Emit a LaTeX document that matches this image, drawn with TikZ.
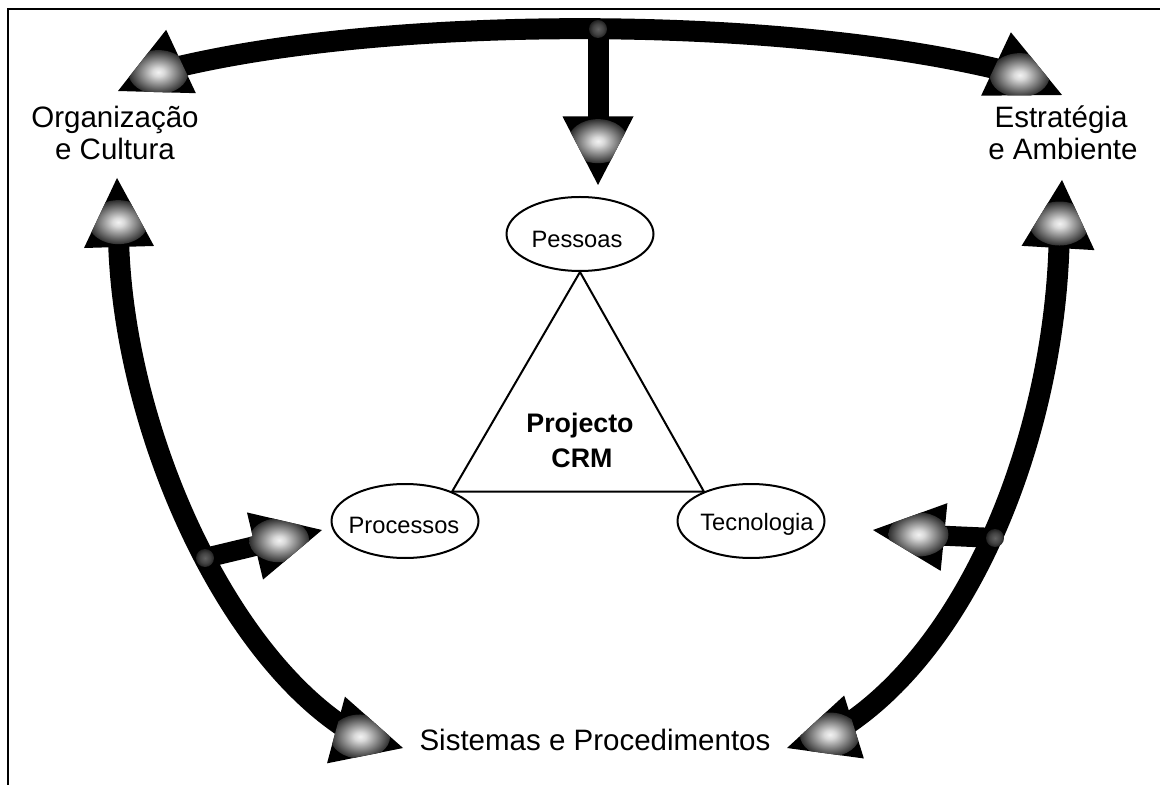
\documentclass[tikz,border=0pt]{standalone}
\usepackage{fontspec}
\setmainfont{Liberation Sans}
\usetikzlibrary{calc,shapes.geometric}

% soft light spot inside the arrow heads
\pgfdeclareradialshading{headglow}{\pgfpoint{0bp}{0bp}}{%
  color(0bp)=(white!95!black); color(5bp)=(white!85!black);
  color(14bp)=(black!45); color(26bp)=(black!85); color(38bp)=(black); color(50bp)=(black)}
% dimmer spot where a branch leaves a band
\pgfdeclareradialshading{joinglow}{\pgfpoint{0bp}{0bp}}{%
  color(0bp)=(black!62); color(15bp)=(black!74); color(32bp)=(black!96); color(50bp)=(black)}

\tikzset{
  bandarrow/.style={line width=10.5pt, black},
  branchband/.style={line width=10pt, black},
  ovalnode/.style={draw, ellipse, line width=1pt, minimum width=73.5pt,
                   minimum height=37pt, inner sep=0pt},
  bigtext/.style={font=\fontsize{14.75}{16}\selectfont, inner sep=0pt, anchor=base},
  smalltext/.style={font=\fontsize{11.85}{14}\selectfont, inner sep=0pt, anchor=base},
  boldtext/.style={font=\fontsize{13.4}{16}\selectfont\bfseries, inner sep=0pt, anchor=base},
  frameline/.style={line width=1pt, black},
  triline/.style={line width=1pt, black, line join=miter},
}

% #1 tip, #2 middle of the base, #3 half width of the head,
% #4 length of band behind the base that the light spot may reach
\newcommand{\drawhead}[4]{%
  \coordinate (hd-a) at ($(#2)!#3!90:(#1)$);
  \coordinate (hd-b) at ($(#2)!#3!-90:(#1)$);
  \coordinate (hd-e) at ($(#2)!-#4!(#1)$);
  \fill[black] (#1) -- (hd-a) -- (hd-b) -- cycle;
  \begin{scope}
    \clip (#1) -- (hd-a) -- ($(#2)!5pt!90:(#1)$) -- ($(hd-e)!5pt!90:(#1)$)
          -- ($(hd-e)!5pt!-90:(#1)$) -- ($(#2)!5pt!-90:(#1)$) -- (hd-b) -- cycle;
    \shade[shading=headglow] ($(#2)!0.36!(#1)$) ellipse (15pt and 11pt);
  \end{scope}
}

\begin{document}
\begin{tikzpicture}[x=0.5pt, y=-0.5pt]
\useasboundingbox (0,0) rectangle (1160,785);

% frame
\draw[frameline] (7.5,800) -- (7.5,9) -- (1170,9);

% outer labels
\node[bigtext] (org1) at (115,128) {Organização};
\node[bigtext] (org2) at (115,160) {e Cultura};
\node[bigtext] (est1) at (1061,128) {Estratégia};
\node[bigtext] (est2) at (1063,160) {e Ambiente};
\node[bigtext] (sis) at (595,750) {Sistemas e Procedimentos};

% the three corners of the project
\node[ovalnode] (pes) at (580,234) {};
\node[smalltext] (pestxt) at (577,248) {Pessoas};
\node[ovalnode] (pro) at (405,521) {};
\node[smalltext] (protxt) at (404,533) {Processos};
\node[ovalnode] (tec) at (751,521) {};
\node[smalltext] (tectxt) at (757,530) {Tecnologia};

\draw[triline] (pes.south) -- (pro.32) -- (tec.148) -- cycle;
\node[boldtext] (prj1) at (580,432) {Projecto};
\node[boldtext] (prj2) at (582,467) {CRM};

% arrow tips and base middles
\coordinate (tlT) at (118,91);   \coordinate (tlB) at (181,61.5);
\coordinate (trT) at (1062,95);  \coordinate (trB) at (996,64);
\coordinate (tmT) at (598,185);  \coordinate (tmB) at (598,116.5);
\coordinate (luT) at (117,178);  \coordinate (luB) at (119,247);
\coordinate (ldT) at (403,748);  \coordinate (ldB) at (336,730);
\coordinate (lbT) at (322,530);  \coordinate (lbB) at (255,546);
\coordinate (ruT) at (1062,180); \coordinate (ruB) at (1058,248);
\coordinate (rdT) at (787,748);  \coordinate (rdB) at (854,727);
\coordinate (rbT) at (873,530);  \coordinate (rbB) at (944,537);
% where branches leave the bands
\coordinate (jt) at (598,31);
\coordinate (jl) at (205,558);
\coordinate (jr) at (995,538);

% bands
\draw[bandarrow] ($(tlB)!0.33!(tlT)$) .. controls (380,14) and (790,14) .. ($(trB)!0.33!(trT)$);
\draw[bandarrow] (jt) -- ($(tmB)!0.33!(tmT)$);
\draw[bandarrow] ($(luB)!0.33!(luT)$) .. controls (118,420) and (225,660) .. ($(ldB)!0.33!(ldT)$);
\draw[branchband] (jl) -- ($(lbB)!0.33!(lbT)$);
\draw[bandarrow] ($(ruB)!0.33!(ruT)$) .. controls (1059,420) and (975,650) .. ($(rdB)!0.33!(rdT)$);
\draw[branchband] (jr) -- ($(rbB)!0.33!(rbT)$);

% heads
\drawhead{tlT}{tlB}{17.5pt}{0pt}
\drawhead{trT}{trB}{17.5pt}{0pt}
\drawhead{tmT}{tmB}{17.75pt}{9pt}
\drawhead{luT}{luB}{17.5pt}{9pt}
\drawhead{ldT}{ldB}{17.25pt}{0pt}
\drawhead{lbT}{lbB}{17.25pt}{7pt}
\drawhead{ruT}{ruB}{18.25pt}{9pt}
\drawhead{rdT}{rdB}{16.5pt}{0pt}
\drawhead{rbT}{rbB}{17pt}{7pt}

% junction spots
\shade[shading=joinglow] (598,29) circle (4.5pt);
\shade[shading=joinglow] (jl) circle (4.5pt);
\shade[shading=joinglow] (jr) circle (4.5pt);
\end{tikzpicture}
\end{document}
